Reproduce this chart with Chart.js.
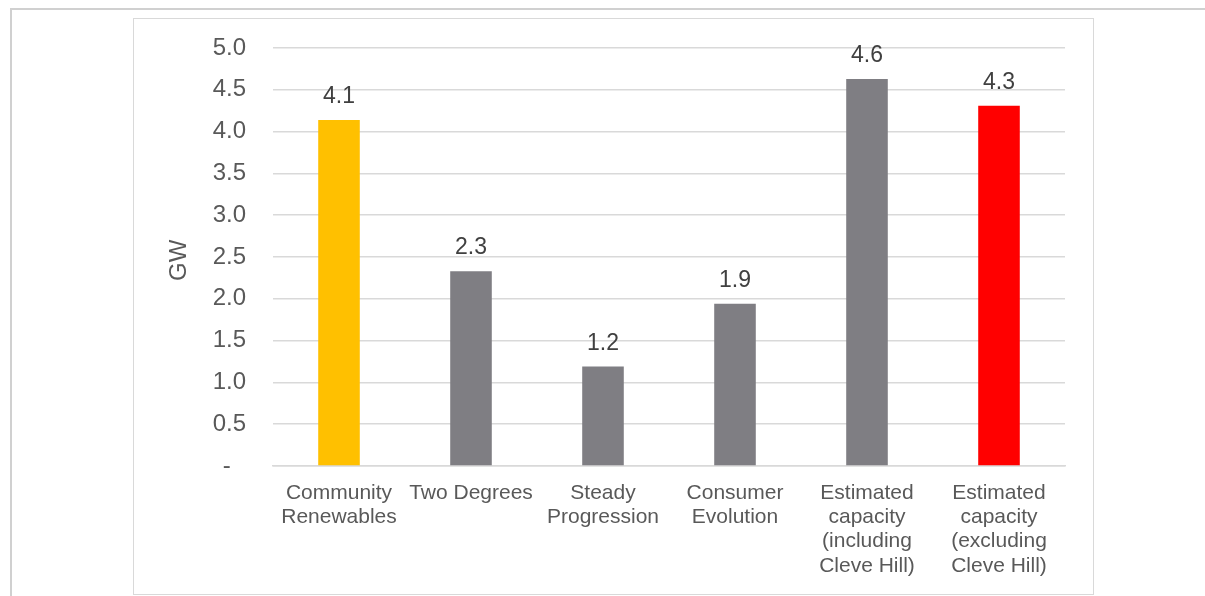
<!DOCTYPE html>
<html>
<head>
<meta charset="utf-8">
<script src="https://cdn.jsdelivr.net/npm/chart.js@4/dist/chart.umd.min.js"></script>
<style>
  html, body { margin: 0; padding: 0; background: #ffffff; overflow: hidden; }
  #page { position: relative; width: 1205px; height: 596px; overflow: hidden; }
  #outerFrame { position: absolute; left: 10px; top: 8px; width: 1300px; height: 700px;
                border: 2px solid #d0d0d0; box-sizing: border-box; }
  #innerFrame { position: absolute; left: 133px; top: 18px; width: 961px; height: 577px;
                border: 1.5px solid #d9d9d9; box-sizing: border-box; }
  #chart { position: absolute; left: 0; top: 0; }
</style>
</head>
<body>
<div id="page">
  <div id="outerFrame"></div>
  <div id="innerFrame"></div>
  <canvas id="chart" width="1205" height="596"></canvas>
</div>
<script>
// Scenario names (multi-line axis labels)
const categories = [
  ['Community', 'Renewables'],
  ['Two Degrees'],
  ['Steady', 'Progression'],
  ['Consumer', 'Evolution'],
  ['Estimated', 'capacity', '(including', 'Cleve Hill)'],
  ['Estimated', 'capacity', '(excluding', 'Cleve Hill)']
];
// Capacity in GW
const capacityGW = [4.14, 2.33, 1.19, 1.94, 4.63, 4.31];
const barColors = ['#FFC000', '#7F7E83', '#7F7E83', '#7F7E83', '#7F7E83', '#FF0000'];
// Value axis ticks
const yTicks = [0, 0.5, 1.0, 1.5, 2.0, 2.5, 3.0, 3.5, 4.0, 4.5, 5.0];

const FONT = '"Liberation Sans", Arial, sans-serif';

// Writes each bar's value just above it
const valueLabels = {
  id: 'valueLabels',
  afterDatasetsDraw(chart) {
    const { ctx } = chart;
    const meta = chart.getDatasetMeta(0);
    ctx.save();
    ctx.font = '23px ' + FONT;
    ctx.fillStyle = '#404040';
    ctx.textAlign = 'center';
    ctx.textBaseline = 'alphabetic';
    meta.data.forEach((bar, i) => {
      ctx.fillText(capacityGW[i].toFixed(1), bar.x, bar.y - 17);
    });
    ctx.restore();
  }
};

new Chart(document.getElementById('chart'), {
  type: 'bar',
  data: {
    labels: categories,
    datasets: [{
      data: capacityGW,
      backgroundColor: barColors,
      borderWidth: 0,
      barPercentage: 0.315,
      categoryPercentage: 1.0
    }]
  },
  options: {
    responsive: false,
    animation: false,
    events: [],
    layout: { padding: { left: 150, top: 48, right: 140, bottom: 0 } },
    plugins: { legend: { display: false }, tooltip: { enabled: false } },
    scales: {
      x: {
        grid: { display: false, drawTicks: false },
        border: { display: true, color: '#d9d9d9', width: 1.5 },
        ticks: {
          color: '#595959',
          font: { family: FONT, size: 21, lineHeight: 1.155 },
          padding: 15,
          maxRotation: 0,
          autoSkip: false
        },
        afterFit(scale) { scale.height = 130; }
      },
      y: {
        min: 0,
        max: 5,
        afterBuildTicks(scale) { scale.ticks = yTicks.map(v => ({ value: v })); },
        grid: { color: '#d9d9d9', lineWidth: 1.5, drawTicks: false },
        border: { display: false },
        ticks: {
          color: '#595959',
          font: { family: FONT, size: 24 },
          padding: 27,
          callback: v => (v === 0 ? '-  \u200A' : v.toFixed(1))
        },
        title: {
          display: true,
          text: 'GW ',
          color: '#595959',
          font: { family: FONT, size: 24, lineHeight: 1.2 },
          padding: { top: 14.6, bottom: 0 }
        },
        afterFit(scale) { scale.width = 123; }
      }
    }
  },
  plugins: [valueLabels]
});
</script>
</body>
</html>
